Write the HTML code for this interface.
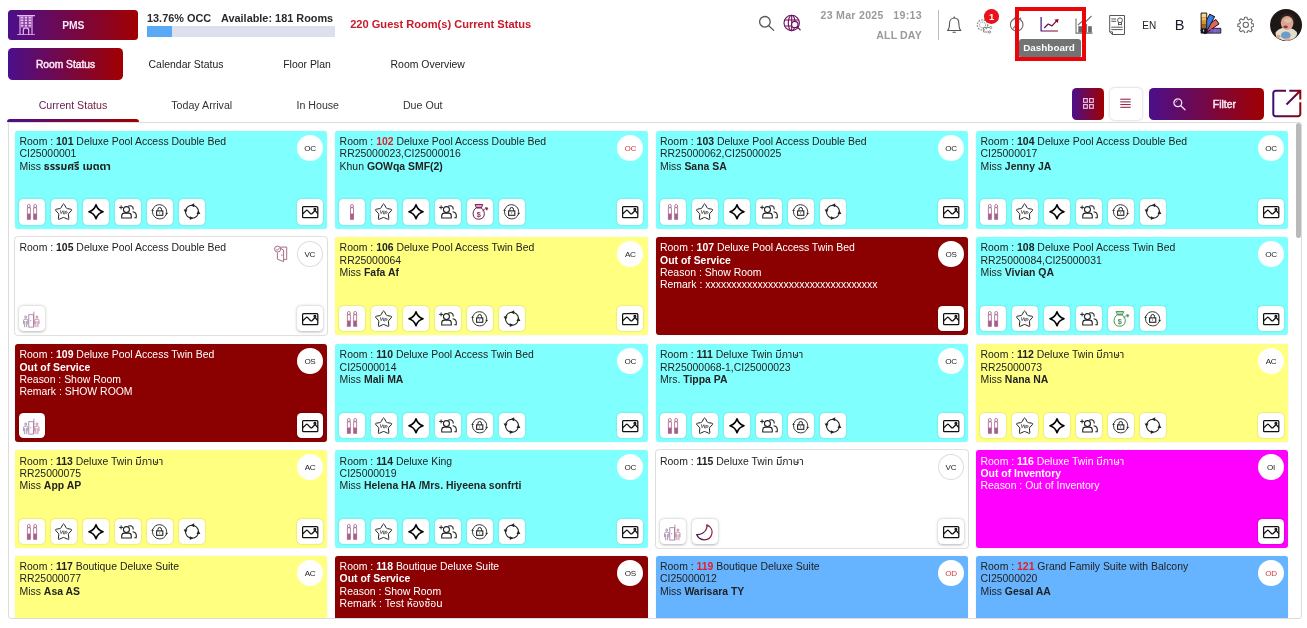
<!DOCTYPE html>
<html lang="en"><head><meta charset="utf-8"><title>PMS - Room Status</title>
<style>
*{box-sizing:border-box;margin:0;padding:0}
html,body{width:1307px;height:628px;overflow:hidden;background:#fff}
body{position:relative;font-family:"Liberation Sans", "Noto Sans Thai", "Noto Sans Thai UI", "Leelawadee UI", "Tahoma", "Loma", "Garuda", "DejaVu Sans", sans-serif;font-size:10.45px;color:#222;line-height:12.5px}
.abs{position:absolute}
.grad{background:linear-gradient(90deg,#4b0f8a 0%,#a00000 100%)}
.btn{position:absolute;border-radius:4px;color:#fff;font-weight:700;text-align:center}
.nav{position:absolute;top:49px;height:32px;line-height:32px;width:160px;text-align:center;font-size:10.45px;color:#222;white-space:nowrap}
.tab{position:absolute;top:90px;height:30px;line-height:30px;text-align:center;font-size:10.65px;color:#333;white-space:nowrap}
.panel{position:absolute;left:7.5px;top:121.5px;width:1294px;height:497.7px;border:1px solid #dcdcdc;border-radius:0 3px 3px 3px;overflow:hidden;background:#fff}
.card{position:absolute;width:312.6px;height:98.2px;border-radius:3px;box-shadow:0 0 1.5px rgba(0,0,0,.12);overflow:hidden}
.card .tx{position:absolute;left:4.8px;top:5.5px;white-space:nowrap;line-height:12.29px;font-size:10.45px}
.card b{font-weight:700}
.oc{background:#80ffff}.ac{background:#ffff80}.os{background:#8b0000;color:#fff}.vc{background:#fff;box-shadow:0 0 0 .8px #d6d6d6}.vc .ib{box-shadow:0 .5px 3px rgba(0,0,0,.3)}.oi{background:#ff00ff;color:#fff}.od{background:#66b3ff}
.red{color:#e0202a}
.badge{position:absolute;right:4.5px;top:4px;width:26px;height:26.4px;border-radius:50%;background:#fff;font-size:8.1px;line-height:27.8px;text-align:center;color:#222;letter-spacing:-.35px;padding-left:.3px}
.vc .badge{border:1px solid #ddd;line-height:25.8px;padding-left:0}
.ib{position:absolute;top:68.8px;width:26px;height:25.4px;border-radius:4.500px;background:#fff;box-shadow:0 0 2px rgba(0,0,0,.22)}
.ib svg{position:absolute;left:0;top:0;width:26px;height:25.6px;overflow:visible}
.os .ib,.oi .ib{box-shadow:0 0 2px rgba(0,0,0,.4)}
.hd{position:absolute;white-space:nowrap}
.gtxt{background:linear-gradient(90deg,#4b0f8a 0%,#a00000 100%);-webkit-background-clip:text;background-clip:text;color:transparent}
</style></head>
<body>
<!-- top bar -->
<div class="btn grad" style="left:8px;top:10.2px;width:130px;height:29.6px;border-radius:3.5px;line-height:31.2px;font-size:10.3px;color:#fdeaf8"><span class="abs" style="left:0;width:130px;text-align:center;padding-left:0.6px">PMS</span>
<svg class="abs" style="left:9px;top:4.6px;width:18px;height:20.400px" viewBox="0 0 18 20.4"><g fill="none" stroke="#e9b9f2" stroke-width="1.100"><path d="M0 .6h18M0 19.800h18"/><path d="M3 .6v19.200M15 .6v19.200"/></g><rect x="3.500" y="1.100" width="11" height="11.300" fill="#e9b9f2" opacity=".3"/><g fill="#f0c6f6"><rect x="4.1" y="1.7" width="2.300" height="1.800"/><rect x="7.8" y="1.7" width="2.300" height="1.800"/><rect x="11.6" y="1.7" width="2.300" height="1.800"/><rect x="4.1" y="4.4" width="2.300" height="1.800"/><rect x="7.8" y="4.4" width="2.300" height="1.800"/><rect x="11.6" y="4.4" width="2.300" height="1.800"/><rect x="4.1" y="7.1" width="2.300" height="1.800"/><rect x="7.8" y="7.1" width="2.300" height="1.800"/><rect x="11.6" y="7.1" width="2.300" height="1.800"/><rect x="4.1" y="9.8" width="2.300" height="1.800"/><rect x="7.8" y="9.8" width="2.300" height="1.800"/><rect x="11.6" y="9.8" width="2.300" height="1.800"/></g><path d="M6.300 19.800v-4.300a2.700 2.700 0 0 1 5.400 0v4.300" fill="none" stroke="#e9b9f2" stroke-width="1.200"/><path d="M3.500 12.800h11" stroke="#e9b9f2" stroke-width=".6" opacity=".6"/></svg></div>
<div class="hd" style="left:147px;top:11.500px;font-size:10.9px;font-weight:700;color:#2a2a2a;line-height:13px">13.76% OCC</div>
<div class="hd" style="left:221px;top:11.500px;font-size:10.9px;font-weight:700;color:#2a2a2a;line-height:13px">Available: 181 Rooms</div>
<div class="abs" style="left:147px;top:26.2px;width:188px;height:11.300px;background:#dcdfec"></div>
<div class="abs" style="left:147px;top:26.2px;width:25px;height:11.300px;background:#5aa9f5"></div>
<div class="hd" style="left:350.2px;top:17.5px;font-size:11.08px;font-weight:700;color:#c8182c;line-height:13px">220 Guest Room(s) Current Status</div>

<!-- search -->
<svg class="abs" style="left:755px;top:12px;width:22px;height:22px" viewBox="0 0 22 22"><g fill="none" stroke="#555" stroke-width="1.300" stroke-linecap="round"><circle cx="9.900" cy="9.800" r="5.300"/><path d="M13.700 13.700l5 4.700"/></g></svg>
<!-- globe search -->
<svg class="abs" style="left:782px;top:13px;width:20px;height:20px" viewBox="0 0 20 20"><g fill="none" stroke="#6d0f60" stroke-width="1.100"><circle cx="9.700" cy="10" r="7.700"/><ellipse cx="9.700" cy="10" rx="3.400" ry="7.700"/><path d="M9.700 2.300v15.400M2.600 7h14.200M2.600 13h14.200"/></g><circle cx="12.800" cy="11.500" r="3.200" fill="#fff" stroke="#6d0f60" stroke-width="1.200"/><path d="M15.100 13.900l3 2.900" stroke="#6d0f60" stroke-width="1.300" stroke-linecap="round"/></svg>
<div class="hd" style="right:385.2px;top:8.6px;font-size:10.6px;font-weight:700;color:#9a9a9a;line-height:13px;text-align:right;white-space:pre;letter-spacing:.28px">23 Mar 2025   19:13</div>
<div class="hd" style="right:385.2px;top:29.0px;letter-spacing:.1px;font-size:10.6px;font-weight:700;color:#9a9a9a;line-height:13px;text-align:right">ALL DAY</div>
<div class="abs" style="left:938px;top:10px;width:1px;height:30px;background:#bdbdbd"></div>
<!-- bell -->
<svg class="abs" style="left:944px;top:14px;width:20px;height:21px" viewBox="0 0 20 21"><g fill="none" stroke="#555" stroke-width="1.100" stroke-linejoin="round" stroke-linecap="round"><path d="M3.600 16.500c1.700-1.700 1.900-3.500 1.900-6.800 0-3.500 2-5.700 4.700-5.700s4.700 2.200 4.700 5.700c0 3.300.2 5.100 1.900 6.800z"/><path d="M10.200 2.700v1.200M9 18.300h2.400"/></g></svg>
<!-- gear share -->
<svg class="abs" style="left:976px;top:18px;width:18px;height:17px" viewBox="0 0 18 17"><g fill="none" stroke="#8c8c8c" stroke-width="1"><circle cx="6.500" cy="7" r="3" stroke-dasharray="1.400 .8"/><circle cx="6.500" cy="7" r="5.200" stroke-dasharray="1.700 1.100" stroke-width="1.300"/><path d="M7.500 9.500h6.500M7.500 9.500v4.500h5"/><circle cx="14.700" cy="9.500" r="1.100"/><circle cx="13.600" cy="14" r="1.100"/></g></svg>
<div class="abs" style="left:984.2px;top:9px;width:14.700px;height:14.700px;border-radius:50%;background:#e9121b;color:#fff;font-size:9.500px;font-weight:700;line-height:16px;text-align:center">1</div>
<!-- clock -->
<svg class="abs" style="left:1008px;top:16px;width:18px;height:18px" viewBox="0 0 18 18"><g fill="none" stroke="#666" stroke-width="1.100"><circle cx="8.700" cy="8.700" r="6.300"/><path d="M5 12.500l6.500-7M6 1.800l1.500 1.200M11.500 3l1.500-1.200"/></g></svg>
<!-- dashboard icon -->
<svg class="abs" style="left:1038px;top:14px;width:24px;height:20px" viewBox="0 0 24 20"><defs><linearGradient id="g1" x1="0" x2="1" y1="0" y2="0"><stop offset="0" stop-color="#4a0f80"/><stop offset="1" stop-color="#900010"/></linearGradient></defs><g fill="none" stroke="url(#g1)" stroke-width="1.200" stroke-linejoin="round"><path d="M3.100 3v14h16.800"/><path d="M6.200 14l4-4 3.800 1.900 5-5.500"/></g><path d="M16.400 5.800l4.200-.9-.9 4.200z" fill="#8a0418"/></svg>
<!-- tooltip -->
<div class="abs" style="left:1019px;top:39.100px;width:62px;height:18.600px;border-radius:3px;background:#727474;color:#fff;font-size:9.900px;font-weight:700;line-height:17.600px;text-align:center;padding-right:2px">Dashboard</div>
<!-- bar chart -->
<svg class="abs" style="left:1074px;top:14px;width:20px;height:21px" viewBox="0 0 20 21"><g fill="#6a6a6a"><rect x="4.300" y="12.200" width="3.700" height="6.400"/><rect x="9.600" y="9.800" width="3.500" height="8.800" fill="#777"/><rect x="14.100" y="12.200" width="3.700" height="6.400"/></g><g fill="none" stroke="#707070" stroke-width="1.100"><path d="M2 4.500v14.600h16.500"/><path d="M4 11l4.500-4 2 2L17.500 2"/></g></svg>
<!-- red highlight box -->
<div class="abs" style="left:1015px;top:6.950px;width:71px;height:53.750px;border:4px solid #ec0508"></div>
<!-- certificate -->
<svg class="abs" style="left:1108px;top:14px;width:19px;height:22px" viewBox="0 0 19 22"><g fill="none" stroke="#555" stroke-width="1"><path d="M1.700 1.500h14.800v19H4.500l-2.800-2.600z"/><path d="M1.700 17.900h2.800v2.600"/><path d="M3.300 5h4.800M3.300 7.300h4.800M3.300 13.200h11.400M3.300 15.600h11.400"/><circle cx="12" cy="6.300" r="2.400"/><path d="M10.500 8.300v2.700l1.500-.8 1.500.8V8.300"/></g></svg>
<div class="hd" style="left:1142.3px;top:18.800px;font-size:10px;color:#222;line-height:13px">EN</div>
<div class="hd" style="left:1174.8px;top:15.500px;font-size:14.600px;color:#1b1b2b;line-height:18px">B</div>
<!-- palette -->
<svg class="abs" style="left:1200px;top:12px;width:22px;height:23px" viewBox="0 0 22 23"><g stroke="#15101c" stroke-width=".9" stroke-linejoin="round"><rect x="5" y="16.300" width="15.800" height="4.800" fill="#6d4bab"/><g transform="rotate(56 3.900 18.900)"><rect x="1.150" y="2.500" width="5.500" height="17.500" fill="#e4645c"/></g><g transform="rotate(28 3.900 18.900)"><rect x="1.150" y="1.400" width="5.500" height="18.600" fill="#3d7de6"/></g><rect x="1.100" y="1" width="5.600" height="20.100" fill="#15101c"/></g><rect x="1.600" y="1.500" width="4.600" height="3.700" fill="#f6da8c"/><rect x="1.600" y="5.200" width="4.600" height="3.700" fill="#f0ba52"/><rect x="1.600" y="8.900" width="4.600" height="3.700" fill="#d98f2e"/><rect x="1.600" y="12.600" width="4.600" height="3.700" fill="#a8651e"/><rect x="3.200" y="17.600" width=".9" height="2" fill="#fff"/><rect x="10.500" y="16.900" width="3" height="3.600" fill="#7a58b8"/><rect x="13.700" y="16.900" width="3" height="3.600" fill="#8a68c6"/><rect x="16.900" y="16.900" width="3.300" height="3.600" fill="#7e5cbc"/></svg>
<!-- settings gear -->
<svg class="abs" style="left:1236.800px;top:15.600px;width:17.600px;height:17.600px" viewBox="0 0 24 24"><g fill="none" stroke="#666" stroke-width="1.450" stroke-linejoin="round"><circle cx="12" cy="12" r="3.600"/><path d="M10.300 1.700h3.400l.5 2.800 1.900.8 2.400-1.600 2.400 2.400-1.600 2.400.8 1.900 2.800.5v3.400l-2.800.5-.8 1.900 1.600 2.400-2.400 2.400-2.400-1.600-1.900.8-.5 2.800h-3.400l-.5-2.800-1.900-.8-2.400 1.600-2.400-2.400 1.600-2.400-.8-1.900-2.800-.5v-3.400l2.800-.5.8-1.900-1.600-2.400 2.400-2.400 2.400 1.600 1.900-.8z"/></g></svg>
<!-- avatar -->
<svg class="abs" style="left:1270px;top:8.800px;width:32px;height:32px" viewBox="0 0 32 32"><defs><clipPath id="av"><circle cx="16" cy="16" r="16"/></clipPath><filter id="bl" x="-20%" y="-20%" width="140%" height="140%"><feGaussianBlur stdDeviation=".65"/></filter></defs><g clip-path="url(#av)"><rect width="32" height="32" fill="#1d1715"/><g filter="url(#bl)"><ellipse cx="17.200" cy="11.500" rx="7.600" ry="7" fill="#33241f"/><ellipse cx="16.300" cy="25" rx="10.800" ry="6.400" fill="#e2decb"/><ellipse cx="17.100" cy="14" rx="6.300" ry="7" fill="#dba594"/><ellipse cx="17.800" cy="11.600" rx="3.600" ry="2.200" fill="#e6bda6"/><ellipse cx="15.600" cy="17.900" rx="2.200" ry="1.400" fill="#9f3038"/><ellipse cx="15.800" cy="26.200" rx="4.800" ry="3.800" fill="#6f9bc9"/><ellipse cx="8.300" cy="27.600" rx="2.400" ry="1.800" fill="#dba594"/><ellipse cx="17.700" cy="30.500" rx="3" ry="1.500" fill="#d9a79c"/></g></g></svg>

<!-- nav row -->
<div class="btn grad" style="left:8px;top:48.2px;width:115px;height:31.500px;line-height:33.4px;font-size:10.25px;font-weight:400;-webkit-text-stroke:.45px #fdeaf8;color:#fdeaf8;border-radius:4.500px">Room Status</div>
<div class="nav" style="left:106px">Calendar Status</div>
<div class="nav" style="left:227px">Floor Plan</div>
<div class="nav" style="left:347.700px">Room Overview</div>

<!-- tabs -->
<div class="tab gtxt" style="left:7px;width:132px;background-image:linear-gradient(90deg,#4f1a78,#8a1420)">Current Status</div>
<div class="tab" style="left:139px;width:125.5px">Today Arrival</div>
<div class="tab" style="left:264.5px;width:106.5px">In House</div>
<div class="tab" style="left:371px;width:103.5px">Due Out</div>
<div class="abs grad" style="left:7px;top:118.700px;width:132px;height:3.300px;border-radius:3.500px 3.500px 0 0"></div>

<!-- view buttons -->
<div class="abs grad" style="left:1072px;top:88.2px;width:31.700px;height:31.600px;border-radius:4.500px"><svg class="abs" style="left:10.500px;top:9.700px;width:11px;height:11px" viewBox="0 0 11 11"><g fill="none" stroke="#f0c8e8" stroke-width="1.100"><rect x=".6" y=".6" width="3.700" height="3.700"/><rect x="6.600" y=".6" width="3.700" height="3.700"/><rect x=".6" y="6.600" width="3.700" height="3.700"/><rect x="6.600" y="6.600" width="3.700" height="3.700"/></g></svg></div>
<div class="abs" style="left:1109.800px;top:88.2px;width:32.500px;height:31.600px;border-radius:4.500px;background:#fff;box-shadow:0 0 2.500px rgba(0,0,0,.28)"><svg class="abs" style="left:10.700px;top:10px;width:11px;height:11px" viewBox="0 0 11 11"><g stroke="#8a1840" stroke-width="1"><path d="M.3 1.200h10.400M.3 3.900h10.400M.3 6.600h10.400M.3 9.300h10.400"/></g></svg></div>
<div class="btn grad" style="left:1149px;top:88.2px;width:115px;height:31.600px;border-radius:4.500px;line-height:33.4px;font-size:10.4px;font-weight:400;-webkit-text-stroke:.45px #fdeaf8;color:#fdeaf8"><span class="abs" style="left:63.8px">Filter</span><svg class="abs" style="left:23px;top:8.500px;width:15px;height:15px" viewBox="0 0 15 15"><g fill="none" stroke="#f6e4f4" stroke-width="1.300" stroke-linecap="round"><circle cx="5.800" cy="5.800" r="3.900"/><path d="M8.800 8.800l4.200 4"/></g><path d="M3.800 5.400a2.200 2.200 0 0 1 1.700-1.700" fill="none" stroke="#f6e4f4" stroke-width=".7"/></svg></div>
<!-- external link -->
<svg class="abs" style="left:1271px;top:88px;width:32px;height:31px" viewBox="0 0 32 31"><defs><linearGradient id="g2" x1="0" x2="1" y1="0" y2="0"><stop offset="0" stop-color="#400d70"/><stop offset="1" stop-color="#8c0210"/></linearGradient></defs><g fill="none" stroke="url(#g2)" stroke-width="2"><path d="M15 2.800H4.500a2.200 2.200 0 0 0-2.200 2.200v21a2.200 2.200 0 0 0 2.200 2.200h22.600a2.200 2.200 0 0 0 2.200-2.200V14.300"/><path d="M15.500 16.500L29 3M18.300 2.800h11v8.600"/></g></svg>

<div class="panel">
<div class="card oc" style="left:6.20px;top:8.10px;width:312.6px"><div class="tx">Room : <b>101</b> Deluxe Pool Access Double Bed<br>CI25000001<br>Miss <b>ธรรมศรี เมตตา</b></div><div class="badge">OC</div><div class="ib" style="left:4.30px"><svg viewBox="0 0 26 25.6"><g fill="none" stroke="#a55f88" stroke-width=".8"><circle cx="9.8" cy="7" r="1.5"/><circle cx="16.200" cy="7" r="1.500"/><rect x="8.300" y="8.800" width="3" height="11.500"/><rect x="14.700" y="8.800" width="3" height="11.500"/></g><rect x="8.300" y="14.600" width="3" height="5.700" fill="#a55f88"/><rect x="14.700" y="14.600" width="3" height="5.700" fill="#a55f88"/></svg></div><div class="ib" style="left:36.30px"><svg viewBox="0 0 26 25.6"><path d="M11.79 5.60Q12.60 4.10 13.41 5.60L15.05 8.64Q15.48 9.44 16.37 9.60L19.77 10.22Q21.44 10.53 20.27 11.76L17.88 14.26Q17.26 14.91 17.38 15.81L17.84 19.24Q18.07 20.92 16.53 20.19L13.41 18.69Q12.60 18.30 11.79 18.69L8.67 20.19Q7.13 20.92 7.36 19.24L7.82 15.81Q7.94 14.91 7.32 14.26L4.93 11.76Q3.76 10.53 5.43 10.22L8.83 9.60Q9.72 9.44 10.15 8.64Z" fill="none" stroke="#222" stroke-width="1"/><text x="12.700" y="15.300" font-size="5" font-weight="700" text-anchor="middle" fill="#333" font-family="Liberation Sans, sans-serif" transform="rotate(10 13 13.500)">VIP</text></svg></div><div class="ib" style="left:68.30px"><svg viewBox="0 0 26 25.6"><path d="M13 5.800A10.500 10.500 0 0 0 20 12.800A10.500 10.500 0 0 0 13 19.800A10.500 10.500 0 0 0 6 12.800A10.500 10.500 0 0 0 13 5.800Z" fill="none" stroke="#000" stroke-width="1.600" stroke-linejoin="round"/></svg></div><div class="ib" style="left:100.30px"><svg viewBox="0 0 26 25.6"><g fill="none" stroke="#222" stroke-width="1.100"><path d="M4.200 8.400h3.800M6.100 6.500v3.800" stroke-width="1"/><circle cx="11.450" cy="10.600" r="3"/><path d="M6.700 19v-2c0-1.800 1.200-2.900 2.900-2.900h3.800c1.700 0 2.900 1.100 2.900 2.900v2z" stroke-linejoin="round"/><path d="M13.200 7.300c2-1.300 5.200-.3 5.100 3.200"/><path d="M17.600 12.800c2.500.3 3.900 2.300 3.700 4.600l-.1 1.300h-1.900"/></g></svg></div><div class="ib" style="left:132.30px"><svg viewBox="0 0 26 25.6"><g fill="none" stroke="#222"><circle cx="12.600" cy="12.800" r="7.100" stroke-width=".9" stroke-dasharray="21.300 1" stroke-dashoffset="-2.500"/><rect x="9.600" y="11.900" width="6.200" height="4.400" stroke-width="1.100"/><path d="M10.900 11.800v-1.500a1.800 1.800 0 0 1 3.600 0v1.500" stroke-width="1"/></g><path d="M4.200 11.800l2.600.200-1.100-2.300z M21 13.900l-2.600-.2 1.100 2.300z" fill="#222"/><path d="M12.100 13.400h1.200l-.6 1.500z" fill="#222"/></svg></div><div class="ib" style="left:164.30px"><svg viewBox="0 0 26 25.6"><circle cx="13" cy="12.700" r="6.500" fill="none" stroke="#222" stroke-width="1.100"/><g fill="#222"><path d="M11.600 6.300l3.600-2v3.900z"/><path d="M19.400 11.300l2 3.600h-3.900z"/><path d="M14.400 19.100l-3.600 2v-3.900z"/><path d="M6.600 14.100l-2-3.600h3.900z"/></g></svg></div><div class="ib" style="right:4.6px"><svg viewBox="0 0 26 25.6"><g fill="none" stroke="#111" stroke-width="1.250" stroke-linejoin="round"><rect x="5.600" y="7.700" width="15.200" height="10.900" rx="0.900"/><path d="M5.800 14.800l3.300-3.200c.5-.5 1-.5 1.500 0l2.800 2.900c.6.6 1.200.6 1.800 0l2.900-3 2.700 3.200"/><circle cx="17.900" cy="10.300" r=".9"/></g></svg></div></div>
<div class="card oc" style="left:326.30px;top:8.10px;width:312.8px"><div class="tx">Room : <b class="red">102</b> Deluxe Pool Access Double Bed<br>RR25000023,CI25000016<br>Khun <b>GOWqa SMF(2)</b></div><div class="badge" style="color:#d63a3e">OC</div><div class="ib" style="left:4.30px"><svg viewBox="0 0 26 25.6"><g fill="none" stroke="#a55f88" stroke-width=".8"><circle cx="13" cy="7" r="1.500"/><rect x="11.500" y="8.800" width="3" height="11.500"/></g><rect x="11.500" y="14.600" width="3" height="5.700" fill="#a55f88"/></svg></div><div class="ib" style="left:36.30px"><svg viewBox="0 0 26 25.6"><path d="M11.79 5.60Q12.60 4.10 13.41 5.60L15.05 8.64Q15.48 9.44 16.37 9.60L19.77 10.22Q21.44 10.53 20.27 11.76L17.88 14.26Q17.26 14.91 17.38 15.81L17.84 19.24Q18.07 20.92 16.53 20.19L13.41 18.69Q12.60 18.30 11.79 18.69L8.67 20.19Q7.13 20.92 7.36 19.24L7.82 15.81Q7.94 14.91 7.32 14.26L4.93 11.76Q3.76 10.53 5.43 10.22L8.83 9.60Q9.72 9.44 10.15 8.64Z" fill="none" stroke="#222" stroke-width="1"/><text x="12.700" y="15.300" font-size="5" font-weight="700" text-anchor="middle" fill="#333" font-family="Liberation Sans, sans-serif" transform="rotate(10 13 13.500)">VIP</text></svg></div><div class="ib" style="left:68.30px"><svg viewBox="0 0 26 25.6"><path d="M13 5.800A10.500 10.500 0 0 0 20 12.800A10.500 10.500 0 0 0 13 19.800A10.500 10.500 0 0 0 6 12.800A10.500 10.500 0 0 0 13 5.800Z" fill="none" stroke="#000" stroke-width="1.600" stroke-linejoin="round"/></svg></div><div class="ib" style="left:100.30px"><svg viewBox="0 0 26 25.6"><g fill="none" stroke="#222" stroke-width="1.100"><path d="M4.200 8.400h3.800M6.100 6.500v3.800" stroke-width="1"/><circle cx="11.450" cy="10.600" r="3"/><path d="M6.700 19v-2c0-1.800 1.200-2.900 2.900-2.900h3.800c1.700 0 2.900 1.100 2.900 2.900v2z" stroke-linejoin="round"/><path d="M13.200 7.300c2-1.300 5.200-.3 5.100 3.200"/><path d="M17.600 12.800c2.500.3 3.900 2.300 3.700 4.600l-.1 1.300h-1.900"/></g></svg></div><div class="ib" style="left:132.30px"><svg viewBox="0 0 26 25.6"><path d="M8 5.500h7.800l-1.400 3.300h-5z" fill="#e39ac6" stroke="#6e1c4c" stroke-width=".9" stroke-linejoin="round"/><path d="M9.400 8.800c-2 1-3.300 3.300-3.300 6 0 3.500 2.100 5.400 5.600 5.400s5.600-1.900 5.600-5.400c0-2.700-1.300-5-3.300-6z" fill="none" stroke="#6e1c4c" stroke-width="1"/><path d="M15.300 12.200c1.300-1.600 2.800-2.400 4.700-2.800" fill="none" stroke="#7a1c44" stroke-width="1"/><path d="M18.600 8.400l2.400.7-1.200 2.200z" fill="#7a1c44" stroke="#7a1c44" stroke-width=".6" stroke-linejoin="round"/><text x="11.700" y="17.600" font-size="7.400" font-weight="700" text-anchor="middle" fill="#8a2a5c" font-family="Liberation Sans, sans-serif">$</text></svg></div><div class="ib" style="left:164.30px"><svg viewBox="0 0 26 25.6"><g fill="none" stroke="#222"><circle cx="12.600" cy="12.800" r="7.100" stroke-width=".9" stroke-dasharray="21.300 1" stroke-dashoffset="-2.500"/><rect x="9.600" y="11.900" width="6.200" height="4.400" stroke-width="1.100"/><path d="M10.900 11.800v-1.500a1.800 1.800 0 0 1 3.600 0v1.500" stroke-width="1"/></g><path d="M4.200 11.800l2.600.200-1.100-2.300z M21 13.900l-2.600-.2 1.100 2.300z" fill="#222"/><path d="M12.100 13.400h1.200l-.6 1.500z" fill="#222"/></svg></div><div class="ib" style="right:4.6px"><svg viewBox="0 0 26 25.6"><g fill="none" stroke="#111" stroke-width="1.250" stroke-linejoin="round"><rect x="5.600" y="7.700" width="15.200" height="10.900" rx="0.900"/><path d="M5.800 14.800l3.300-3.200c.5-.5 1-.5 1.500 0l2.800 2.900c.6.6 1.200.6 1.800 0l2.900-3 2.700 3.200"/><circle cx="17.900" cy="10.300" r=".9"/></g></svg></div></div>
<div class="card oc" style="left:647.40px;top:8.10px;width:312.5px"><div class="tx" style="left:4.15px">Room : <b>103</b> Deluxe Pool Access Double Bed<br>RR25000062,CI25000025<br>Miss <b>Sana SA</b></div><div class="badge">OC</div><div class="ib" style="left:3.65px"><svg viewBox="0 0 26 25.6"><g fill="none" stroke="#a55f88" stroke-width=".8"><circle cx="9.8" cy="7" r="1.5"/><circle cx="16.200" cy="7" r="1.500"/><rect x="8.300" y="8.800" width="3" height="11.500"/><rect x="14.700" y="8.800" width="3" height="11.500"/></g><rect x="8.300" y="14.600" width="3" height="5.700" fill="#a55f88"/><rect x="14.700" y="14.600" width="3" height="5.700" fill="#a55f88"/></svg></div><div class="ib" style="left:35.65px"><svg viewBox="0 0 26 25.6"><path d="M11.79 5.60Q12.60 4.10 13.41 5.60L15.05 8.64Q15.48 9.44 16.37 9.60L19.77 10.22Q21.44 10.53 20.27 11.76L17.88 14.26Q17.26 14.91 17.38 15.81L17.84 19.24Q18.07 20.92 16.53 20.19L13.41 18.69Q12.60 18.30 11.79 18.69L8.67 20.19Q7.13 20.92 7.36 19.24L7.82 15.81Q7.94 14.91 7.32 14.26L4.93 11.76Q3.76 10.53 5.43 10.22L8.83 9.60Q9.72 9.44 10.15 8.64Z" fill="none" stroke="#222" stroke-width="1"/><text x="12.700" y="15.300" font-size="5" font-weight="700" text-anchor="middle" fill="#333" font-family="Liberation Sans, sans-serif" transform="rotate(10 13 13.500)">VIP</text></svg></div><div class="ib" style="left:67.65px"><svg viewBox="0 0 26 25.6"><path d="M13 5.800A10.500 10.500 0 0 0 20 12.800A10.500 10.500 0 0 0 13 19.800A10.500 10.500 0 0 0 6 12.800A10.500 10.500 0 0 0 13 5.800Z" fill="none" stroke="#000" stroke-width="1.600" stroke-linejoin="round"/></svg></div><div class="ib" style="left:99.65px"><svg viewBox="0 0 26 25.6"><g fill="none" stroke="#222" stroke-width="1.100"><path d="M4.200 8.400h3.800M6.100 6.500v3.800" stroke-width="1"/><circle cx="11.450" cy="10.600" r="3"/><path d="M6.700 19v-2c0-1.800 1.200-2.900 2.900-2.900h3.800c1.700 0 2.900 1.100 2.900 2.900v2z" stroke-linejoin="round"/><path d="M13.200 7.300c2-1.300 5.200-.3 5.100 3.200"/><path d="M17.600 12.800c2.500.3 3.900 2.300 3.700 4.600l-.1 1.300h-1.900"/></g></svg></div><div class="ib" style="left:131.65px"><svg viewBox="0 0 26 25.6"><g fill="none" stroke="#222"><circle cx="12.600" cy="12.800" r="7.100" stroke-width=".9" stroke-dasharray="21.300 1" stroke-dashoffset="-2.500"/><rect x="9.600" y="11.900" width="6.200" height="4.400" stroke-width="1.100"/><path d="M10.900 11.800v-1.500a1.800 1.800 0 0 1 3.600 0v1.500" stroke-width="1"/></g><path d="M4.200 11.800l2.600.200-1.100-2.300z M21 13.900l-2.600-.2 1.100 2.300z" fill="#222"/><path d="M12.100 13.400h1.200l-.6 1.500z" fill="#222"/></svg></div><div class="ib" style="left:163.65px"><svg viewBox="0 0 26 25.6"><circle cx="13" cy="12.700" r="6.500" fill="none" stroke="#222" stroke-width="1.100"/><g fill="#222"><path d="M11.600 6.300l3.600-2v3.900z"/><path d="M19.400 11.300l2 3.600h-3.900z"/><path d="M14.400 19.100l-3.600 2v-3.900z"/><path d="M6.600 14.100l-2-3.600h3.900z"/></g></svg></div><div class="ib" style="right:4.6px"><svg viewBox="0 0 26 25.6"><g fill="none" stroke="#111" stroke-width="1.250" stroke-linejoin="round"><rect x="5.600" y="7.700" width="15.200" height="10.900" rx="0.900"/><path d="M5.800 14.800l3.300-3.200c.5-.5 1-.5 1.500 0l2.800 2.900c.6.6 1.200.6 1.800 0l2.900-3 2.700 3.200"/><circle cx="17.900" cy="10.300" r=".9"/></g></svg></div></div>
<div class="card oc" style="left:967.20px;top:8.10px;width:312.7px"><div class="tx">Room : <b>104</b> Deluxe Pool Access Double Bed<br>CI25000017<br>Miss <b>Jenny JA</b></div><div class="badge">OC</div><div class="ib" style="left:4.30px"><svg viewBox="0 0 26 25.6"><g fill="none" stroke="#a55f88" stroke-width=".8"><circle cx="9.8" cy="7" r="1.5"/><circle cx="16.200" cy="7" r="1.500"/><rect x="8.300" y="8.800" width="3" height="11.500"/><rect x="14.700" y="8.800" width="3" height="11.500"/></g><rect x="8.300" y="14.600" width="3" height="5.700" fill="#a55f88"/><rect x="14.700" y="14.600" width="3" height="5.700" fill="#a55f88"/></svg></div><div class="ib" style="left:36.30px"><svg viewBox="0 0 26 25.6"><path d="M11.79 5.60Q12.60 4.10 13.41 5.60L15.05 8.64Q15.48 9.44 16.37 9.60L19.77 10.22Q21.44 10.53 20.27 11.76L17.88 14.26Q17.26 14.91 17.38 15.81L17.84 19.24Q18.07 20.92 16.53 20.19L13.41 18.69Q12.60 18.30 11.79 18.69L8.67 20.19Q7.13 20.92 7.36 19.24L7.82 15.81Q7.94 14.91 7.32 14.26L4.93 11.76Q3.76 10.53 5.43 10.22L8.83 9.60Q9.72 9.44 10.15 8.64Z" fill="none" stroke="#222" stroke-width="1"/><text x="12.700" y="15.300" font-size="5" font-weight="700" text-anchor="middle" fill="#333" font-family="Liberation Sans, sans-serif" transform="rotate(10 13 13.500)">VIP</text></svg></div><div class="ib" style="left:68.30px"><svg viewBox="0 0 26 25.6"><path d="M13 5.800A10.500 10.500 0 0 0 20 12.800A10.500 10.500 0 0 0 13 19.800A10.500 10.500 0 0 0 6 12.800A10.500 10.500 0 0 0 13 5.800Z" fill="none" stroke="#000" stroke-width="1.600" stroke-linejoin="round"/></svg></div><div class="ib" style="left:100.30px"><svg viewBox="0 0 26 25.6"><g fill="none" stroke="#222" stroke-width="1.100"><path d="M4.200 8.400h3.800M6.100 6.500v3.800" stroke-width="1"/><circle cx="11.450" cy="10.600" r="3"/><path d="M6.700 19v-2c0-1.800 1.200-2.900 2.900-2.900h3.800c1.700 0 2.900 1.100 2.900 2.900v2z" stroke-linejoin="round"/><path d="M13.200 7.300c2-1.300 5.200-.3 5.100 3.200"/><path d="M17.600 12.800c2.500.3 3.900 2.300 3.700 4.600l-.1 1.300h-1.900"/></g></svg></div><div class="ib" style="left:132.30px"><svg viewBox="0 0 26 25.6"><g fill="none" stroke="#222"><circle cx="12.600" cy="12.800" r="7.100" stroke-width=".9" stroke-dasharray="21.300 1" stroke-dashoffset="-2.500"/><rect x="9.600" y="11.900" width="6.200" height="4.400" stroke-width="1.100"/><path d="M10.900 11.800v-1.500a1.800 1.800 0 0 1 3.600 0v1.500" stroke-width="1"/></g><path d="M4.200 11.800l2.600.200-1.100-2.300z M21 13.900l-2.600-.2 1.100 2.300z" fill="#222"/><path d="M12.100 13.400h1.200l-.6 1.500z" fill="#222"/></svg></div><div class="ib" style="left:164.30px"><svg viewBox="0 0 26 25.6"><circle cx="13" cy="12.700" r="6.500" fill="none" stroke="#222" stroke-width="1.100"/><g fill="#222"><path d="M11.600 6.300l3.600-2v3.900z"/><path d="M19.400 11.300l2 3.600h-3.900z"/><path d="M14.400 19.100l-3.600 2v-3.900z"/><path d="M6.600 14.100l-2-3.600h3.900z"/></g></svg></div><div class="ib" style="right:4.6px"><svg viewBox="0 0 26 25.6"><g fill="none" stroke="#111" stroke-width="1.250" stroke-linejoin="round"><rect x="5.600" y="7.700" width="15.200" height="10.900" rx="0.900"/><path d="M5.800 14.800l3.300-3.200c.5-.5 1-.5 1.500 0l2.800 2.900c.6.6 1.200.6 1.800 0l2.900-3 2.700 3.200"/><circle cx="17.900" cy="10.300" r=".9"/></g></svg></div></div>
<div class="card vc" style="left:6.20px;top:114.30px;width:312.6px"><div class="tx">Room : <b>105</b> Deluxe Pool Access Double Bed</div><div class="badge">VC</div><svg class="abs" style="left:253.25px;top:3.25px;width:26px;height:28px" viewBox="0 0 26 28"><g fill="none" stroke="#9c5c78" stroke-width=".9" stroke-linejoin="round"><path d="M12.300 7.100h6.400v12.300h-2.900"/><path d="M9.400 12.600v6.600l6.200 2.400v-11.600l-2.800-1.500"/><path d="M13.200 15.200h1.400"/><circle cx="9.600" cy="9.100" r="3"/><path d="M8.100 9.300l1.100 1.100 2.100-2.300"/></g></svg><div class="ib" style="left:4.30px"><svg viewBox="0 0 26 25.6"><defs><linearGradient id="gf" gradientUnits="userSpaceOnUse" x1="4" x2="21" y1="0" y2="0"><stop offset="0" stop-color="#8d78a6"/><stop offset="1" stop-color="#b8728c"/></linearGradient></defs><g fill="none" stroke="url(#gf)" stroke-width=".8"><rect x="9.800" y="8.700" width="4.800" height="12.400"/><path d="M14.900 5.600v15.500"/><path d="M11 14.800h1.200"/><circle cx="6.700" cy="11" r="1"/><path d="M4.600 18.200v-3.800c0-.8.500-1.200 1.200-1.200h1.800c.7 0 1.200.4 1.200 1.200v3.800M5.700 15v6.200M7.700 15v6.200"/><circle cx="17.900" cy="11" r="1"/><path d="M15.800 18.200v-3.800c0-.8.500-1.200 1.200-1.200h1.800c.7 0 1.200.4 1.200 1.200v3.800M16.900 15v6.200M18.900 15v6.200"/></g></svg></div><div class="ib" style="right:4.6px"><svg viewBox="0 0 26 25.6"><g fill="none" stroke="#111" stroke-width="1.250" stroke-linejoin="round"><rect x="5.600" y="7.700" width="15.200" height="10.900" rx="0.900"/><path d="M5.800 14.800l3.300-3.200c.5-.5 1-.5 1.500 0l2.800 2.900c.6.6 1.200.6 1.800 0l2.900-3 2.700 3.200"/><circle cx="17.900" cy="10.300" r=".9"/></g></svg></div></div>
<div class="card ac" style="left:326.30px;top:114.30px;width:312.8px"><div class="tx">Room : <b>106</b> Deluxe Pool Access Twin Bed<br>RR25000064<br>Miss <b>Fafa Af</b></div><div class="badge">AC</div><div class="ib" style="left:4.30px"><svg viewBox="0 0 26 25.6"><g fill="none" stroke="#a55f88" stroke-width=".8"><circle cx="9.8" cy="7" r="1.5"/><circle cx="16.200" cy="7" r="1.500"/><rect x="8.300" y="8.800" width="3" height="11.500"/><rect x="14.700" y="8.800" width="3" height="11.500"/></g><rect x="8.300" y="14.600" width="3" height="5.700" fill="#a55f88"/><rect x="14.700" y="14.600" width="3" height="5.700" fill="#a55f88"/></svg></div><div class="ib" style="left:36.30px"><svg viewBox="0 0 26 25.6"><path d="M11.79 5.60Q12.60 4.10 13.41 5.60L15.05 8.64Q15.48 9.44 16.37 9.60L19.77 10.22Q21.44 10.53 20.27 11.76L17.88 14.26Q17.26 14.91 17.38 15.81L17.84 19.24Q18.07 20.92 16.53 20.19L13.41 18.69Q12.60 18.30 11.79 18.69L8.67 20.19Q7.13 20.92 7.36 19.24L7.82 15.81Q7.94 14.91 7.32 14.26L4.93 11.76Q3.76 10.53 5.43 10.22L8.83 9.60Q9.72 9.44 10.15 8.64Z" fill="none" stroke="#222" stroke-width="1"/><text x="12.700" y="15.300" font-size="5" font-weight="700" text-anchor="middle" fill="#333" font-family="Liberation Sans, sans-serif" transform="rotate(10 13 13.500)">VIP</text></svg></div><div class="ib" style="left:68.30px"><svg viewBox="0 0 26 25.6"><path d="M13 5.800A10.500 10.500 0 0 0 20 12.800A10.500 10.500 0 0 0 13 19.800A10.500 10.500 0 0 0 6 12.800A10.500 10.500 0 0 0 13 5.800Z" fill="none" stroke="#000" stroke-width="1.600" stroke-linejoin="round"/></svg></div><div class="ib" style="left:100.30px"><svg viewBox="0 0 26 25.6"><g fill="none" stroke="#222" stroke-width="1.100"><path d="M4.200 8.400h3.800M6.100 6.500v3.800" stroke-width="1"/><circle cx="11.450" cy="10.600" r="3"/><path d="M6.700 19v-2c0-1.800 1.200-2.900 2.900-2.900h3.800c1.700 0 2.900 1.100 2.900 2.900v2z" stroke-linejoin="round"/><path d="M13.200 7.300c2-1.300 5.200-.3 5.100 3.200"/><path d="M17.600 12.800c2.500.3 3.900 2.300 3.700 4.600l-.1 1.300h-1.900"/></g></svg></div><div class="ib" style="left:132.30px"><svg viewBox="0 0 26 25.6"><g fill="none" stroke="#222"><circle cx="12.600" cy="12.800" r="7.100" stroke-width=".9" stroke-dasharray="21.300 1" stroke-dashoffset="-2.500"/><rect x="9.600" y="11.900" width="6.200" height="4.400" stroke-width="1.100"/><path d="M10.900 11.800v-1.500a1.800 1.800 0 0 1 3.600 0v1.500" stroke-width="1"/></g><path d="M4.200 11.800l2.600.200-1.100-2.300z M21 13.900l-2.600-.2 1.100 2.300z" fill="#222"/><path d="M12.100 13.400h1.200l-.6 1.500z" fill="#222"/></svg></div><div class="ib" style="left:164.30px"><svg viewBox="0 0 26 25.6"><circle cx="13" cy="12.700" r="6.500" fill="none" stroke="#222" stroke-width="1.100"/><g fill="#222"><path d="M11.600 6.300l3.600-2v3.900z"/><path d="M19.400 11.300l2 3.600h-3.900z"/><path d="M14.400 19.100l-3.600 2v-3.900z"/><path d="M6.600 14.100l-2-3.600h3.900z"/></g></svg></div><div class="ib" style="right:4.6px"><svg viewBox="0 0 26 25.6"><g fill="none" stroke="#111" stroke-width="1.250" stroke-linejoin="round"><rect x="5.600" y="7.700" width="15.200" height="10.900" rx="0.900"/><path d="M5.800 14.800l3.300-3.200c.5-.5 1-.5 1.500 0l2.800 2.900c.6.6 1.200.6 1.800 0l2.900-3 2.700 3.200"/><circle cx="17.900" cy="10.300" r=".9"/></g></svg></div></div>
<div class="card os" style="left:647.40px;top:114.30px;width:312.5px"><div class="tx" style="left:4.15px">Room : <b>107</b> Deluxe Pool Access Twin Bed<br><b>Out of Service</b><br>Reason : Show Room<br>Remark : xxxxxxxxxxxxxxxxxxxxxxxxxxxxxxxxx</div><div class="badge">OS</div><div class="ib" style="right:4.6px"><svg viewBox="0 0 26 25.6"><g fill="none" stroke="#111" stroke-width="1.250" stroke-linejoin="round"><rect x="5.600" y="7.700" width="15.200" height="10.900" rx="0.900"/><path d="M5.800 14.800l3.300-3.200c.5-.5 1-.5 1.500 0l2.800 2.900c.6.6 1.200.6 1.800 0l2.900-3 2.700 3.200"/><circle cx="17.900" cy="10.300" r=".9"/></g></svg></div></div>
<div class="card oc" style="left:967.20px;top:114.30px;width:312.7px"><div class="tx">Room : <b>108</b> Deluxe Pool Access Twin Bed<br>RR25000084,CI25000031<br>Miss <b>Vivian QA</b></div><div class="badge">OC</div><div class="ib" style="left:4.30px"><svg viewBox="0 0 26 25.6"><g fill="none" stroke="#a55f88" stroke-width=".8"><circle cx="9.8" cy="7" r="1.5"/><circle cx="16.200" cy="7" r="1.500"/><rect x="8.300" y="8.800" width="3" height="11.500"/><rect x="14.700" y="8.800" width="3" height="11.500"/></g><rect x="8.300" y="14.600" width="3" height="5.700" fill="#a55f88"/><rect x="14.700" y="14.600" width="3" height="5.700" fill="#a55f88"/></svg></div><div class="ib" style="left:36.30px"><svg viewBox="0 0 26 25.6"><path d="M11.79 5.60Q12.60 4.10 13.41 5.60L15.05 8.64Q15.48 9.44 16.37 9.60L19.77 10.22Q21.44 10.53 20.27 11.76L17.88 14.26Q17.26 14.91 17.38 15.81L17.84 19.24Q18.07 20.92 16.53 20.19L13.41 18.69Q12.60 18.30 11.79 18.69L8.67 20.19Q7.13 20.92 7.36 19.24L7.82 15.81Q7.94 14.91 7.32 14.26L4.93 11.76Q3.76 10.53 5.43 10.22L8.83 9.60Q9.72 9.44 10.15 8.64Z" fill="none" stroke="#222" stroke-width="1"/><text x="12.700" y="15.300" font-size="5" font-weight="700" text-anchor="middle" fill="#333" font-family="Liberation Sans, sans-serif" transform="rotate(10 13 13.500)">VIP</text></svg></div><div class="ib" style="left:68.30px"><svg viewBox="0 0 26 25.6"><path d="M13 5.800A10.500 10.500 0 0 0 20 12.800A10.500 10.500 0 0 0 13 19.800A10.500 10.500 0 0 0 6 12.800A10.500 10.500 0 0 0 13 5.800Z" fill="none" stroke="#000" stroke-width="1.600" stroke-linejoin="round"/></svg></div><div class="ib" style="left:100.30px"><svg viewBox="0 0 26 25.6"><g fill="none" stroke="#222" stroke-width="1.100"><path d="M4.200 8.400h3.800M6.100 6.500v3.800" stroke-width="1"/><circle cx="11.450" cy="10.600" r="3"/><path d="M6.700 19v-2c0-1.800 1.200-2.900 2.900-2.900h3.800c1.700 0 2.900 1.100 2.900 2.900v2z" stroke-linejoin="round"/><path d="M13.200 7.300c2-1.300 5.200-.3 5.100 3.200"/><path d="M17.600 12.800c2.500.3 3.900 2.300 3.700 4.600l-.1 1.300h-1.900"/></g></svg></div><div class="ib" style="left:132.30px"><svg viewBox="0 0 26 25.6"><path d="M8 5.500h7.800l-1.400 3.300h-5z" fill="#a8dcae" stroke="#4e8f58" stroke-width=".9" stroke-linejoin="round"/><path d="M9.400 8.800c-2 1-3.300 3.300-3.300 6 0 3.500 2.100 5.400 5.600 5.400s5.600-1.900 5.600-5.400c0-2.700-1.300-5-3.300-6z" fill="none" stroke="#4e8f58" stroke-width="1"/><path d="M15.300 12.200c1.300-1.600 2.800-2.400 4.700-2.800" fill="none" stroke="#4e8f58" stroke-width="1"/><path d="M18.600 8.400l2.400.7-1.200 2.200z" fill="#4e8f58" stroke="#4e8f58" stroke-width=".6" stroke-linejoin="round"/><text x="11.700" y="17.600" font-size="7.400" font-weight="700" text-anchor="middle" fill="#4e8f58" font-family="Liberation Sans, sans-serif">$</text></svg></div><div class="ib" style="left:164.30px"><svg viewBox="0 0 26 25.6"><g fill="none" stroke="#222"><circle cx="12.600" cy="12.800" r="7.100" stroke-width=".9" stroke-dasharray="21.300 1" stroke-dashoffset="-2.500"/><rect x="9.600" y="11.900" width="6.200" height="4.400" stroke-width="1.100"/><path d="M10.900 11.800v-1.500a1.800 1.800 0 0 1 3.600 0v1.500" stroke-width="1"/></g><path d="M4.200 11.800l2.600.200-1.100-2.300z M21 13.900l-2.600-.2 1.100 2.300z" fill="#222"/><path d="M12.100 13.400h1.200l-.6 1.500z" fill="#222"/></svg></div><div class="ib" style="right:4.6px"><svg viewBox="0 0 26 25.6"><g fill="none" stroke="#111" stroke-width="1.250" stroke-linejoin="round"><rect x="5.600" y="7.700" width="15.200" height="10.900" rx="0.900"/><path d="M5.800 14.800l3.300-3.200c.5-.5 1-.5 1.500 0l2.800 2.900c.6.6 1.200.6 1.800 0l2.900-3 2.700 3.200"/><circle cx="17.900" cy="10.300" r=".9"/></g></svg></div></div>
<div class="card os" style="left:6.20px;top:221.30px;width:312.6px"><div class="tx">Room : <b>109</b> Deluxe Pool Access Twin Bed<br><b>Out of Service</b><br>Reason : Show Room<br>Remark : SHOW ROOM</div><div class="badge">OS</div><div class="ib" style="left:4.30px"><svg viewBox="0 0 26 25.6"><defs><linearGradient id="gf" gradientUnits="userSpaceOnUse" x1="4" x2="21" y1="0" y2="0"><stop offset="0" stop-color="#8d78a6"/><stop offset="1" stop-color="#b8728c"/></linearGradient></defs><g fill="none" stroke="url(#gf)" stroke-width=".8"><rect x="9.800" y="8.700" width="4.800" height="12.400"/><path d="M14.900 5.600v15.500"/><path d="M11 14.800h1.200"/><circle cx="6.700" cy="11" r="1"/><path d="M4.600 18.200v-3.800c0-.8.500-1.200 1.200-1.200h1.800c.7 0 1.200.4 1.200 1.200v3.800M5.700 15v6.200M7.700 15v6.200"/><circle cx="17.900" cy="11" r="1"/><path d="M15.800 18.200v-3.800c0-.8.500-1.200 1.200-1.200h1.800c.7 0 1.200.4 1.200 1.200v3.800M16.900 15v6.200M18.900 15v6.200"/></g></svg></div><div class="ib" style="right:4.6px"><svg viewBox="0 0 26 25.6"><g fill="none" stroke="#111" stroke-width="1.250" stroke-linejoin="round"><rect x="5.600" y="7.700" width="15.200" height="10.900" rx="0.900"/><path d="M5.800 14.800l3.300-3.200c.5-.5 1-.5 1.500 0l2.800 2.900c.6.6 1.200.6 1.800 0l2.900-3 2.700 3.200"/><circle cx="17.900" cy="10.300" r=".9"/></g></svg></div></div>
<div class="card oc" style="left:326.30px;top:221.30px;width:312.8px"><div class="tx">Room : <b>110</b> Deluxe Pool Access Twin Bed<br>CI25000014<br>Miss <b>Mali MA</b></div><div class="badge">OC</div><div class="ib" style="left:4.30px"><svg viewBox="0 0 26 25.6"><g fill="none" stroke="#a55f88" stroke-width=".8"><circle cx="9.8" cy="7" r="1.5"/><circle cx="16.200" cy="7" r="1.500"/><rect x="8.300" y="8.800" width="3" height="11.500"/><rect x="14.700" y="8.800" width="3" height="11.500"/></g><rect x="8.300" y="14.600" width="3" height="5.700" fill="#a55f88"/><rect x="14.700" y="14.600" width="3" height="5.700" fill="#a55f88"/></svg></div><div class="ib" style="left:36.30px"><svg viewBox="0 0 26 25.6"><path d="M11.79 5.60Q12.60 4.10 13.41 5.60L15.05 8.64Q15.48 9.44 16.37 9.60L19.77 10.22Q21.44 10.53 20.27 11.76L17.88 14.26Q17.26 14.91 17.38 15.81L17.84 19.24Q18.07 20.92 16.53 20.19L13.41 18.69Q12.60 18.30 11.79 18.69L8.67 20.19Q7.13 20.92 7.36 19.24L7.82 15.81Q7.94 14.91 7.32 14.26L4.93 11.76Q3.76 10.53 5.43 10.22L8.83 9.60Q9.72 9.44 10.15 8.64Z" fill="none" stroke="#222" stroke-width="1"/><text x="12.700" y="15.300" font-size="5" font-weight="700" text-anchor="middle" fill="#333" font-family="Liberation Sans, sans-serif" transform="rotate(10 13 13.500)">VIP</text></svg></div><div class="ib" style="left:68.30px"><svg viewBox="0 0 26 25.6"><path d="M13 5.800A10.500 10.500 0 0 0 20 12.800A10.500 10.500 0 0 0 13 19.800A10.500 10.500 0 0 0 6 12.800A10.500 10.500 0 0 0 13 5.800Z" fill="none" stroke="#000" stroke-width="1.600" stroke-linejoin="round"/></svg></div><div class="ib" style="left:100.30px"><svg viewBox="0 0 26 25.6"><g fill="none" stroke="#222" stroke-width="1.100"><path d="M4.200 8.400h3.800M6.100 6.500v3.800" stroke-width="1"/><circle cx="11.450" cy="10.600" r="3"/><path d="M6.700 19v-2c0-1.800 1.200-2.900 2.900-2.900h3.800c1.700 0 2.900 1.100 2.900 2.900v2z" stroke-linejoin="round"/><path d="M13.200 7.300c2-1.300 5.200-.3 5.100 3.200"/><path d="M17.600 12.800c2.500.3 3.900 2.300 3.700 4.600l-.1 1.300h-1.900"/></g></svg></div><div class="ib" style="left:132.30px"><svg viewBox="0 0 26 25.6"><g fill="none" stroke="#222"><circle cx="12.600" cy="12.800" r="7.100" stroke-width=".9" stroke-dasharray="21.300 1" stroke-dashoffset="-2.500"/><rect x="9.600" y="11.900" width="6.200" height="4.400" stroke-width="1.100"/><path d="M10.900 11.800v-1.500a1.800 1.800 0 0 1 3.600 0v1.500" stroke-width="1"/></g><path d="M4.200 11.800l2.600.200-1.100-2.300z M21 13.900l-2.600-.2 1.100 2.300z" fill="#222"/><path d="M12.100 13.400h1.200l-.6 1.500z" fill="#222"/></svg></div><div class="ib" style="left:164.30px"><svg viewBox="0 0 26 25.6"><circle cx="13" cy="12.700" r="6.500" fill="none" stroke="#222" stroke-width="1.100"/><g fill="#222"><path d="M11.600 6.300l3.600-2v3.900z"/><path d="M19.400 11.300l2 3.600h-3.900z"/><path d="M14.400 19.100l-3.600 2v-3.900z"/><path d="M6.600 14.100l-2-3.600h3.900z"/></g></svg></div><div class="ib" style="right:4.6px"><svg viewBox="0 0 26 25.6"><g fill="none" stroke="#111" stroke-width="1.250" stroke-linejoin="round"><rect x="5.600" y="7.700" width="15.200" height="10.900" rx="0.900"/><path d="M5.800 14.800l3.300-3.200c.5-.5 1-.5 1.500 0l2.800 2.900c.6.6 1.200.6 1.800 0l2.900-3 2.700 3.200"/><circle cx="17.900" cy="10.300" r=".9"/></g></svg></div></div>
<div class="card oc" style="left:647.40px;top:221.30px;width:312.5px"><div class="tx" style="left:4.15px">Room : <b>111</b> Deluxe Twin มีภาษา<br>RR25000068-1,CI25000023<br>Mrs. <b>Tippa PA</b></div><div class="badge">OC</div><div class="ib" style="left:3.65px"><svg viewBox="0 0 26 25.6"><g fill="none" stroke="#a55f88" stroke-width=".8"><circle cx="9.8" cy="7" r="1.5"/><circle cx="16.200" cy="7" r="1.500"/><rect x="8.300" y="8.800" width="3" height="11.500"/><rect x="14.700" y="8.800" width="3" height="11.500"/></g><rect x="8.300" y="14.600" width="3" height="5.700" fill="#a55f88"/><rect x="14.700" y="14.600" width="3" height="5.700" fill="#a55f88"/></svg></div><div class="ib" style="left:35.65px"><svg viewBox="0 0 26 25.6"><path d="M11.79 5.60Q12.60 4.10 13.41 5.60L15.05 8.64Q15.48 9.44 16.37 9.60L19.77 10.22Q21.44 10.53 20.27 11.76L17.88 14.26Q17.26 14.91 17.38 15.81L17.84 19.24Q18.07 20.92 16.53 20.19L13.41 18.69Q12.60 18.30 11.79 18.69L8.67 20.19Q7.13 20.92 7.36 19.24L7.82 15.81Q7.94 14.91 7.32 14.26L4.93 11.76Q3.76 10.53 5.43 10.22L8.83 9.60Q9.72 9.44 10.15 8.64Z" fill="none" stroke="#222" stroke-width="1"/><text x="12.700" y="15.300" font-size="5" font-weight="700" text-anchor="middle" fill="#333" font-family="Liberation Sans, sans-serif" transform="rotate(10 13 13.500)">VIP</text></svg></div><div class="ib" style="left:67.65px"><svg viewBox="0 0 26 25.6"><path d="M13 5.800A10.500 10.500 0 0 0 20 12.800A10.500 10.500 0 0 0 13 19.800A10.500 10.500 0 0 0 6 12.800A10.500 10.500 0 0 0 13 5.800Z" fill="none" stroke="#000" stroke-width="1.600" stroke-linejoin="round"/></svg></div><div class="ib" style="left:99.65px"><svg viewBox="0 0 26 25.6"><g fill="none" stroke="#222" stroke-width="1.100"><path d="M4.200 8.400h3.800M6.100 6.500v3.800" stroke-width="1"/><circle cx="11.450" cy="10.600" r="3"/><path d="M6.700 19v-2c0-1.800 1.200-2.900 2.900-2.900h3.800c1.700 0 2.900 1.100 2.900 2.900v2z" stroke-linejoin="round"/><path d="M13.200 7.300c2-1.300 5.200-.3 5.100 3.200"/><path d="M17.600 12.800c2.500.3 3.900 2.300 3.700 4.600l-.1 1.300h-1.900"/></g></svg></div><div class="ib" style="left:131.65px"><svg viewBox="0 0 26 25.6"><g fill="none" stroke="#222"><circle cx="12.600" cy="12.800" r="7.100" stroke-width=".9" stroke-dasharray="21.300 1" stroke-dashoffset="-2.500"/><rect x="9.600" y="11.900" width="6.200" height="4.400" stroke-width="1.100"/><path d="M10.900 11.800v-1.500a1.800 1.800 0 0 1 3.600 0v1.500" stroke-width="1"/></g><path d="M4.200 11.800l2.600.200-1.100-2.300z M21 13.900l-2.600-.2 1.100 2.300z" fill="#222"/><path d="M12.100 13.400h1.200l-.6 1.500z" fill="#222"/></svg></div><div class="ib" style="left:163.65px"><svg viewBox="0 0 26 25.6"><circle cx="13" cy="12.700" r="6.500" fill="none" stroke="#222" stroke-width="1.100"/><g fill="#222"><path d="M11.600 6.300l3.600-2v3.900z"/><path d="M19.400 11.300l2 3.600h-3.900z"/><path d="M14.400 19.100l-3.600 2v-3.900z"/><path d="M6.600 14.100l-2-3.600h3.900z"/></g></svg></div><div class="ib" style="right:4.6px"><svg viewBox="0 0 26 25.6"><g fill="none" stroke="#111" stroke-width="1.250" stroke-linejoin="round"><rect x="5.600" y="7.700" width="15.200" height="10.900" rx="0.900"/><path d="M5.800 14.800l3.300-3.200c.5-.5 1-.5 1.500 0l2.800 2.900c.6.6 1.200.6 1.800 0l2.900-3 2.700 3.200"/><circle cx="17.900" cy="10.300" r=".9"/></g></svg></div></div>
<div class="card ac" style="left:967.20px;top:221.30px;width:312.7px"><div class="tx">Room : <b>112</b> Deluxe Twin มีภาษา<br>RR25000073<br>Miss <b>Nana NA</b></div><div class="badge">AC</div><div class="ib" style="left:4.30px"><svg viewBox="0 0 26 25.6"><g fill="none" stroke="#a55f88" stroke-width=".8"><circle cx="9.8" cy="7" r="1.5"/><circle cx="16.200" cy="7" r="1.500"/><rect x="8.300" y="8.800" width="3" height="11.500"/><rect x="14.700" y="8.800" width="3" height="11.500"/></g><rect x="8.300" y="14.600" width="3" height="5.700" fill="#a55f88"/><rect x="14.700" y="14.600" width="3" height="5.700" fill="#a55f88"/></svg></div><div class="ib" style="left:36.30px"><svg viewBox="0 0 26 25.6"><path d="M11.79 5.60Q12.60 4.10 13.41 5.60L15.05 8.64Q15.48 9.44 16.37 9.60L19.77 10.22Q21.44 10.53 20.27 11.76L17.88 14.26Q17.26 14.91 17.38 15.81L17.84 19.24Q18.07 20.92 16.53 20.19L13.41 18.69Q12.60 18.30 11.79 18.69L8.67 20.19Q7.13 20.92 7.36 19.24L7.82 15.81Q7.94 14.91 7.32 14.26L4.93 11.76Q3.76 10.53 5.43 10.22L8.83 9.60Q9.72 9.44 10.15 8.64Z" fill="none" stroke="#222" stroke-width="1"/><text x="12.700" y="15.300" font-size="5" font-weight="700" text-anchor="middle" fill="#333" font-family="Liberation Sans, sans-serif" transform="rotate(10 13 13.500)">VIP</text></svg></div><div class="ib" style="left:68.30px"><svg viewBox="0 0 26 25.6"><path d="M13 5.800A10.500 10.500 0 0 0 20 12.800A10.500 10.500 0 0 0 13 19.800A10.500 10.500 0 0 0 6 12.800A10.500 10.500 0 0 0 13 5.800Z" fill="none" stroke="#000" stroke-width="1.600" stroke-linejoin="round"/></svg></div><div class="ib" style="left:100.30px"><svg viewBox="0 0 26 25.6"><g fill="none" stroke="#222" stroke-width="1.100"><path d="M4.200 8.400h3.800M6.100 6.500v3.800" stroke-width="1"/><circle cx="11.450" cy="10.600" r="3"/><path d="M6.700 19v-2c0-1.800 1.200-2.900 2.900-2.900h3.800c1.700 0 2.900 1.100 2.900 2.900v2z" stroke-linejoin="round"/><path d="M13.200 7.300c2-1.300 5.200-.3 5.100 3.200"/><path d="M17.600 12.800c2.500.3 3.900 2.300 3.700 4.600l-.1 1.300h-1.900"/></g></svg></div><div class="ib" style="left:132.30px"><svg viewBox="0 0 26 25.6"><g fill="none" stroke="#222"><circle cx="12.600" cy="12.800" r="7.100" stroke-width=".9" stroke-dasharray="21.300 1" stroke-dashoffset="-2.500"/><rect x="9.600" y="11.900" width="6.200" height="4.400" stroke-width="1.100"/><path d="M10.900 11.800v-1.500a1.800 1.800 0 0 1 3.600 0v1.500" stroke-width="1"/></g><path d="M4.200 11.800l2.600.200-1.100-2.300z M21 13.900l-2.600-.2 1.100 2.300z" fill="#222"/><path d="M12.100 13.400h1.200l-.6 1.500z" fill="#222"/></svg></div><div class="ib" style="left:164.30px"><svg viewBox="0 0 26 25.6"><circle cx="13" cy="12.700" r="6.500" fill="none" stroke="#222" stroke-width="1.100"/><g fill="#222"><path d="M11.600 6.300l3.600-2v3.900z"/><path d="M19.400 11.300l2 3.600h-3.900z"/><path d="M14.400 19.100l-3.600 2v-3.900z"/><path d="M6.600 14.100l-2-3.600h3.900z"/></g></svg></div><div class="ib" style="right:4.6px"><svg viewBox="0 0 26 25.6"><g fill="none" stroke="#111" stroke-width="1.250" stroke-linejoin="round"><rect x="5.600" y="7.700" width="15.200" height="10.900" rx="0.900"/><path d="M5.800 14.800l3.300-3.200c.5-.5 1-.5 1.500 0l2.800 2.900c.6.6 1.200.6 1.800 0l2.900-3 2.700 3.200"/><circle cx="17.900" cy="10.300" r=".9"/></g></svg></div></div>
<div class="card ac" style="left:6.20px;top:327.50px;width:312.6px"><div class="tx">Room : <b>113</b> Deluxe Twin มีภาษา<br>RR25000075<br>Miss <b>App AP</b></div><div class="badge">AC</div><div class="ib" style="left:4.30px"><svg viewBox="0 0 26 25.6"><g fill="none" stroke="#a55f88" stroke-width=".8"><circle cx="9.8" cy="7" r="1.5"/><circle cx="16.200" cy="7" r="1.500"/><rect x="8.300" y="8.800" width="3" height="11.500"/><rect x="14.700" y="8.800" width="3" height="11.500"/></g><rect x="8.300" y="14.600" width="3" height="5.700" fill="#a55f88"/><rect x="14.700" y="14.600" width="3" height="5.700" fill="#a55f88"/></svg></div><div class="ib" style="left:36.30px"><svg viewBox="0 0 26 25.6"><path d="M11.79 5.60Q12.60 4.10 13.41 5.60L15.05 8.64Q15.48 9.44 16.37 9.60L19.77 10.22Q21.44 10.53 20.27 11.76L17.88 14.26Q17.26 14.91 17.38 15.81L17.84 19.24Q18.07 20.92 16.53 20.19L13.41 18.69Q12.60 18.30 11.79 18.69L8.67 20.19Q7.13 20.92 7.36 19.24L7.82 15.81Q7.94 14.91 7.32 14.26L4.93 11.76Q3.76 10.53 5.43 10.22L8.83 9.60Q9.72 9.44 10.15 8.64Z" fill="none" stroke="#222" stroke-width="1"/><text x="12.700" y="15.300" font-size="5" font-weight="700" text-anchor="middle" fill="#333" font-family="Liberation Sans, sans-serif" transform="rotate(10 13 13.500)">VIP</text></svg></div><div class="ib" style="left:68.30px"><svg viewBox="0 0 26 25.6"><path d="M13 5.800A10.500 10.500 0 0 0 20 12.800A10.500 10.500 0 0 0 13 19.800A10.500 10.500 0 0 0 6 12.800A10.500 10.500 0 0 0 13 5.800Z" fill="none" stroke="#000" stroke-width="1.600" stroke-linejoin="round"/></svg></div><div class="ib" style="left:100.30px"><svg viewBox="0 0 26 25.6"><g fill="none" stroke="#222" stroke-width="1.100"><path d="M4.200 8.400h3.800M6.100 6.500v3.800" stroke-width="1"/><circle cx="11.450" cy="10.600" r="3"/><path d="M6.700 19v-2c0-1.800 1.200-2.900 2.900-2.900h3.800c1.700 0 2.900 1.100 2.900 2.900v2z" stroke-linejoin="round"/><path d="M13.200 7.300c2-1.300 5.200-.3 5.100 3.200"/><path d="M17.600 12.800c2.500.3 3.900 2.300 3.700 4.600l-.1 1.300h-1.900"/></g></svg></div><div class="ib" style="left:132.30px"><svg viewBox="0 0 26 25.6"><g fill="none" stroke="#222"><circle cx="12.600" cy="12.800" r="7.100" stroke-width=".9" stroke-dasharray="21.300 1" stroke-dashoffset="-2.500"/><rect x="9.600" y="11.900" width="6.200" height="4.400" stroke-width="1.100"/><path d="M10.900 11.800v-1.500a1.800 1.800 0 0 1 3.600 0v1.500" stroke-width="1"/></g><path d="M4.200 11.800l2.600.200-1.100-2.300z M21 13.900l-2.600-.2 1.100 2.300z" fill="#222"/><path d="M12.100 13.400h1.200l-.6 1.500z" fill="#222"/></svg></div><div class="ib" style="left:164.30px"><svg viewBox="0 0 26 25.6"><circle cx="13" cy="12.700" r="6.500" fill="none" stroke="#222" stroke-width="1.100"/><g fill="#222"><path d="M11.600 6.300l3.600-2v3.900z"/><path d="M19.400 11.300l2 3.600h-3.900z"/><path d="M14.400 19.100l-3.600 2v-3.900z"/><path d="M6.600 14.100l-2-3.600h3.900z"/></g></svg></div><div class="ib" style="right:4.6px"><svg viewBox="0 0 26 25.6"><g fill="none" stroke="#111" stroke-width="1.250" stroke-linejoin="round"><rect x="5.600" y="7.700" width="15.200" height="10.900" rx="0.900"/><path d="M5.800 14.800l3.300-3.200c.5-.5 1-.5 1.500 0l2.800 2.900c.6.6 1.200.6 1.800 0l2.900-3 2.700 3.200"/><circle cx="17.900" cy="10.300" r=".9"/></g></svg></div></div>
<div class="card oc" style="left:326.30px;top:327.50px;width:312.8px"><div class="tx">Room : <b>114</b> Deluxe King<br>CI25000019<br>Miss <b>Helena HA /Mrs. Hiyeena sonfrti</b></div><div class="badge">OC</div><div class="ib" style="left:4.30px"><svg viewBox="0 0 26 25.6"><g fill="none" stroke="#a55f88" stroke-width=".8"><circle cx="9.8" cy="7" r="1.5"/><circle cx="16.200" cy="7" r="1.500"/><rect x="8.300" y="8.800" width="3" height="11.500"/><rect x="14.700" y="8.800" width="3" height="11.500"/></g><rect x="8.300" y="14.600" width="3" height="5.700" fill="#a55f88"/><rect x="14.700" y="14.600" width="3" height="5.700" fill="#a55f88"/></svg></div><div class="ib" style="left:36.30px"><svg viewBox="0 0 26 25.6"><path d="M11.79 5.60Q12.60 4.10 13.41 5.60L15.05 8.64Q15.48 9.44 16.37 9.60L19.77 10.22Q21.44 10.53 20.27 11.76L17.88 14.26Q17.26 14.91 17.38 15.81L17.84 19.24Q18.07 20.92 16.53 20.19L13.41 18.69Q12.60 18.30 11.79 18.69L8.67 20.19Q7.13 20.92 7.36 19.24L7.82 15.81Q7.94 14.91 7.32 14.26L4.93 11.76Q3.76 10.53 5.43 10.22L8.83 9.60Q9.72 9.44 10.15 8.64Z" fill="none" stroke="#222" stroke-width="1"/><text x="12.700" y="15.300" font-size="5" font-weight="700" text-anchor="middle" fill="#333" font-family="Liberation Sans, sans-serif" transform="rotate(10 13 13.500)">VIP</text></svg></div><div class="ib" style="left:68.30px"><svg viewBox="0 0 26 25.6"><path d="M13 5.800A10.500 10.500 0 0 0 20 12.800A10.500 10.500 0 0 0 13 19.800A10.500 10.500 0 0 0 6 12.800A10.500 10.500 0 0 0 13 5.800Z" fill="none" stroke="#000" stroke-width="1.600" stroke-linejoin="round"/></svg></div><div class="ib" style="left:100.30px"><svg viewBox="0 0 26 25.6"><g fill="none" stroke="#222" stroke-width="1.100"><path d="M4.200 8.400h3.800M6.100 6.500v3.800" stroke-width="1"/><circle cx="11.450" cy="10.600" r="3"/><path d="M6.700 19v-2c0-1.800 1.200-2.900 2.900-2.900h3.800c1.700 0 2.900 1.100 2.900 2.900v2z" stroke-linejoin="round"/><path d="M13.200 7.300c2-1.300 5.200-.3 5.100 3.200"/><path d="M17.600 12.800c2.500.3 3.900 2.300 3.700 4.600l-.1 1.300h-1.900"/></g></svg></div><div class="ib" style="left:132.30px"><svg viewBox="0 0 26 25.6"><g fill="none" stroke="#222"><circle cx="12.600" cy="12.800" r="7.100" stroke-width=".9" stroke-dasharray="21.300 1" stroke-dashoffset="-2.500"/><rect x="9.600" y="11.900" width="6.200" height="4.400" stroke-width="1.100"/><path d="M10.900 11.800v-1.500a1.800 1.800 0 0 1 3.600 0v1.500" stroke-width="1"/></g><path d="M4.200 11.800l2.600.200-1.100-2.300z M21 13.900l-2.600-.2 1.100 2.300z" fill="#222"/><path d="M12.100 13.400h1.200l-.6 1.500z" fill="#222"/></svg></div><div class="ib" style="left:164.30px"><svg viewBox="0 0 26 25.6"><circle cx="13" cy="12.700" r="6.500" fill="none" stroke="#222" stroke-width="1.100"/><g fill="#222"><path d="M11.600 6.300l3.600-2v3.900z"/><path d="M19.400 11.300l2 3.600h-3.900z"/><path d="M14.400 19.100l-3.600 2v-3.900z"/><path d="M6.600 14.100l-2-3.600h3.900z"/></g></svg></div><div class="ib" style="right:4.6px"><svg viewBox="0 0 26 25.6"><g fill="none" stroke="#111" stroke-width="1.250" stroke-linejoin="round"><rect x="5.600" y="7.700" width="15.200" height="10.900" rx="0.900"/><path d="M5.800 14.800l3.300-3.200c.5-.5 1-.5 1.500 0l2.800 2.900c.6.6 1.200.6 1.800 0l2.900-3 2.700 3.200"/><circle cx="17.900" cy="10.300" r=".9"/></g></svg></div></div>
<div class="card vc" style="left:647.40px;top:327.50px;width:312.5px"><div class="tx" style="left:4.15px">Room : <b>115</b> Deluxe Twin มีภาษา</div><div class="badge">VC</div><div class="ib" style="left:3.65px"><svg viewBox="0 0 26 25.6"><defs><linearGradient id="gf" gradientUnits="userSpaceOnUse" x1="4" x2="21" y1="0" y2="0"><stop offset="0" stop-color="#8d78a6"/><stop offset="1" stop-color="#b8728c"/></linearGradient></defs><g fill="none" stroke="url(#gf)" stroke-width=".8"><rect x="9.800" y="8.700" width="4.800" height="12.400"/><path d="M14.900 5.600v15.500"/><path d="M11 14.800h1.200"/><circle cx="6.700" cy="11" r="1"/><path d="M4.600 18.200v-3.800c0-.8.500-1.200 1.200-1.200h1.800c.7 0 1.200.4 1.200 1.200v3.800M5.700 15v6.200M7.700 15v6.200"/><circle cx="17.900" cy="11" r="1"/><path d="M15.800 18.200v-3.800c0-.8.500-1.200 1.200-1.200h1.800c.7 0 1.200.4 1.200 1.200v3.800M16.900 15v6.200M18.900 15v6.200"/></g></svg></div><div class="ib" style="left:35.65px"><svg viewBox="0 0 26 25.6"><defs><linearGradient id="gm" x1="0" x2="1" y1="0" y2="0"><stop offset="0" stop-color="#3f164e"/><stop offset="1" stop-color="#9a2448"/></linearGradient></defs><path d="M14.800 5.900C18.500 7.500 20.800 11 19.900 14.600C18.900 18.600 15.600 21 11.900 20.800C8.600 20.600 5.800 18.500 4.700 15.600C9 16 13.600 13 14.600 9.400C15 8 15.100 6.900 14.800 5.900Z" fill="none" stroke="url(#gm)" stroke-width="1.300" stroke-linejoin="round"/></svg></div><div class="ib" style="right:4.6px"><svg viewBox="0 0 26 25.6"><g fill="none" stroke="#111" stroke-width="1.250" stroke-linejoin="round"><rect x="5.600" y="7.700" width="15.200" height="10.900" rx="0.900"/><path d="M5.800 14.800l3.300-3.200c.5-.5 1-.5 1.500 0l2.800 2.900c.6.6 1.200.6 1.800 0l2.900-3 2.700 3.200"/><circle cx="17.900" cy="10.300" r=".9"/></g></svg></div></div>
<div class="card oi" style="left:967.20px;top:327.50px;width:312.7px"><div class="tx">Room : <b>116</b> Deluxe Twin มีภาษา<br><b>Out of Inventory</b><br>Reason : Out of Inventory</div><div class="badge">OI</div><div class="ib" style="right:4.6px"><svg viewBox="0 0 26 25.6"><g fill="none" stroke="#111" stroke-width="1.250" stroke-linejoin="round"><rect x="5.600" y="7.700" width="15.200" height="10.900" rx="0.900"/><path d="M5.800 14.800l3.300-3.200c.5-.5 1-.5 1.500 0l2.800 2.900c.6.6 1.200.6 1.800 0l2.900-3 2.700 3.200"/><circle cx="17.900" cy="10.300" r=".9"/></g></svg></div></div>
<div class="card ac" style="left:6.20px;top:433.10px;width:312.6px"><div class="tx">Room : <b>117</b> Boutique Deluxe Suite<br>RR25000077<br>Miss <b>Asa AS</b></div><div class="badge">AC</div><div class="ib" style="right:4.6px"><svg viewBox="0 0 26 25.6"><g fill="none" stroke="#111" stroke-width="1.250" stroke-linejoin="round"><rect x="5.600" y="7.700" width="15.200" height="10.900" rx="0.900"/><path d="M5.800 14.800l3.300-3.200c.5-.5 1-.5 1.500 0l2.800 2.900c.6.6 1.200.6 1.800 0l2.900-3 2.700 3.200"/><circle cx="17.900" cy="10.300" r=".9"/></g></svg></div></div>
<div class="card os" style="left:326.30px;top:433.10px;width:312.8px"><div class="tx">Room : <b>118</b> Boutique Deluxe Suite<br><b>Out of Service</b><br>Reason : Show Room<br>Remark : Test ห้องซ้อน</div><div class="badge">OS</div><div class="ib" style="right:4.6px"><svg viewBox="0 0 26 25.6"><g fill="none" stroke="#111" stroke-width="1.250" stroke-linejoin="round"><rect x="5.600" y="7.700" width="15.200" height="10.900" rx="0.900"/><path d="M5.800 14.800l3.300-3.200c.5-.5 1-.5 1.500 0l2.800 2.900c.6.6 1.200.6 1.800 0l2.900-3 2.700 3.200"/><circle cx="17.900" cy="10.300" r=".9"/></g></svg></div></div>
<div class="card od" style="left:647.40px;top:433.10px;width:312.5px"><div class="tx" style="left:4.15px">Room : <b class="red">119</b> Boutique Deluxe Suite<br>CI25000012<br>Miss <b>Warisara TY</b></div><div class="badge" style="color:#d63a3e">OD</div><div class="ib" style="right:4.6px"><svg viewBox="0 0 26 25.6"><g fill="none" stroke="#111" stroke-width="1.250" stroke-linejoin="round"><rect x="5.600" y="7.700" width="15.200" height="10.900" rx="0.900"/><path d="M5.800 14.800l3.300-3.200c.5-.5 1-.5 1.500 0l2.800 2.900c.6.6 1.200.6 1.800 0l2.900-3 2.700 3.200"/><circle cx="17.900" cy="10.300" r=".9"/></g></svg></div></div>
<div class="card od" style="left:967.20px;top:433.10px;width:312.7px"><div class="tx">Room : <b class="red">121</b> Grand Family Suite with Balcony<br>CI25000020<br>Miss <b>Gesal AA</b></div><div class="badge" style="color:#d63a3e">OD</div><div class="ib" style="right:4.6px"><svg viewBox="0 0 26 25.6"><g fill="none" stroke="#111" stroke-width="1.250" stroke-linejoin="round"><rect x="5.600" y="7.700" width="15.200" height="10.900" rx="0.900"/><path d="M5.800 14.800l3.300-3.200c.5-.5 1-.5 1.500 0l2.800 2.900c.6.6 1.200.6 1.800 0l2.900-3 2.700 3.200"/><circle cx="17.900" cy="10.300" r=".9"/></g></svg></div></div>
<div class="abs" style="left:1287px;top:.5px;width:5.400px;height:115px;border-radius:3px;background:#b9b9b9"></div>
</div>
</body></html>
